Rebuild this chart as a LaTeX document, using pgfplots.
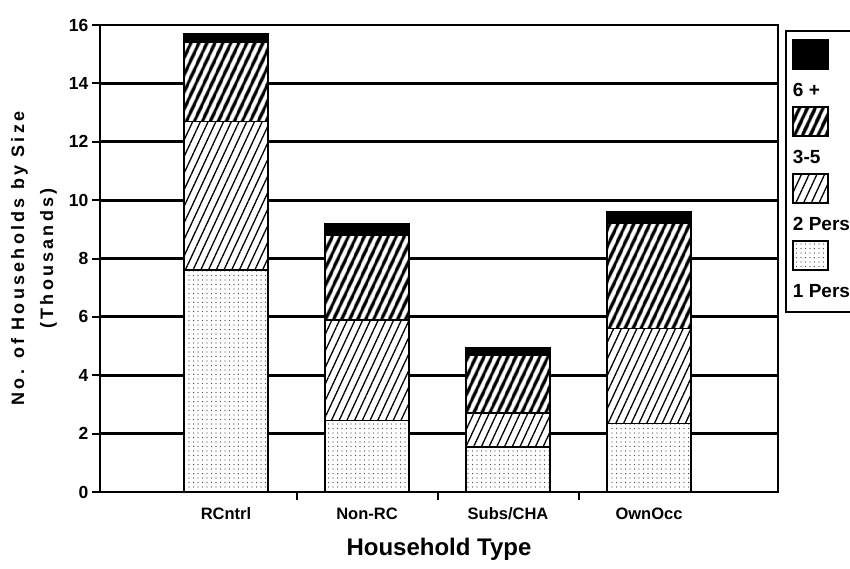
\documentclass[border=0pt]{standalone}
\usepackage{fontspec}
\setmainfont{Liberation Sans}
\usepackage{pgfplots}
\pgfplotsset{compat=1.18}
\usetikzlibrary{patterns.meta}

\begin{document}
\begin{tikzpicture}
\begin{axis}[
  scale only axis,
  width=678pt, height=467pt,
  ybar stacked,
  bar width=84pt,
  xmin=-0.894, xmax=3.915,
  ymin=0, ymax=16,
  xtick={0.5,1.5,2.5},
  xticklabels={},
  extra x ticks={0,1,2,3},
  extra x tick labels={RCntrl,Non-RC,Subs/CHA,OwnOcc},
  extra x tick style={major tick length=0pt,
    xticklabel style={anchor=base, yshift=-27pt}},
  ytick={0,2,...,16},
  xtick pos=bottom, ytick pos=left,
  tick align=outside,
  major tick length=8pt,
  tick style={black, line width=2pt},
  ymajorgrids,
  major grid style={black, line width=2.8pt},
  axis line style={line width=2.2pt},
  /pgf/number format/assume math mode=true,
  yticklabel style={font=\fontsize{17.5}{17.5}\selectfont\bfseries},
  xticklabel style={font=\fontsize{16.5}{16.5}\selectfont\bfseries},
  ylabel={No. of Households by Size\\(Thousands)},
  ylabel style={at={(axis description cs:-0.0973,0.5)}, anchor=center, align=center,
    font=\fontsize{18}{29}\selectfont\bfseries\addfontfeatures{LetterSpace=18}},
  xlabel={Household Type},
  xlabel style={at={(axis description cs:0.5,-0.135)}, anchor=base,
    font=\fontsize{24}{24}\selectfont\bfseries},
  every axis plot/.append style={draw=black, line width=1.6pt},
  legend image code/.code={\draw[#1, line width=1.6pt, overlay] (0pt,27pt) rectangle (35pt,56pt);},
  reverse legend,
  legend style={at={(axis description cs:1.0103,0.989)}, anchor=north west,
    draw=black, line width=2pt, inner xsep=7pt, inner ysep=9pt,
    row sep=5pt, column sep=0pt,
    nodes={inner sep=0pt, text height=56pt, text depth=6pt, anchor=base west,
      font=\fontsize{19}{19}\selectfont\bfseries}},
]
% 1 Pers
\addplot[fill=white, postaction={pattern={Dots[distance=4.5pt,radius=0.55pt]}, pattern color=black!75}]
  coordinates {(0,7.6) (1,2.45) (2,1.55) (3,2.35)};
% 2 Pers
\addplot[fill=white, postaction={pattern={Lines[angle=65,distance=7pt,line width=1.3pt]}, pattern color=black}]
  coordinates {(0,5.1) (1,3.45) (2,1.15) (3,3.25)};
% 3-5
\addplot[fill=white, postaction={pattern={Lines[angle=65,distance=6.5pt,line width=3.6pt]}, pattern color=black}]
  coordinates {(0,2.7) (1,2.9) (2,2.0) (3,3.6)};
% 6 +
\addplot[fill=black]
  coordinates {(0,0.3) (1,0.4) (2,0.25) (3,0.4)};
\legend{1 Pers\hspace{12pt},2 Pers\hspace{12pt},3-5,6 +}
\end{axis}
\pgfresetboundingbox
\path[use as bounding box] (-100pt,-76pt) rectangle (750pt,492pt);
\end{tikzpicture}
\end{document}
